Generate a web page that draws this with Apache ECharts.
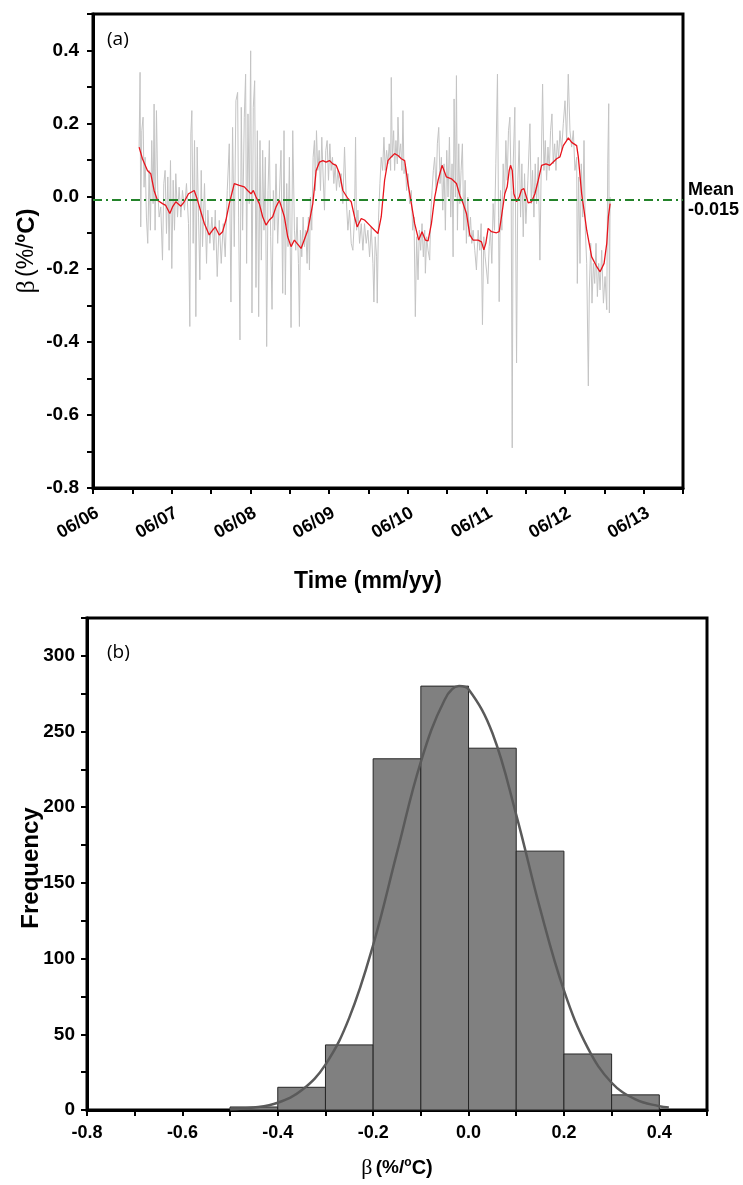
<!DOCTYPE html>
<html><head><meta charset="utf-8">
<script src="https://cdn.jsdelivr.net/npm/echarts@6/dist/echarts.min.js"></script>
<style>html,body{margin:0;padding:0;background:#fff}#c{width:743px;height:1185px}</style>
</head><body><div id="c"></div>
<script>
// ---------- Panel (a): beta time series, x = months since June 2006 ----------
const greySeries = [
[7.03,0.135],[7.18,0.340],[7.28,-0.084],[7.44,0.180],[7.64,0.217],[7.79,0.025],[7.95,0.107],[8.15,-0.057],[8.35,-0.129],[8.56,0.071],
[8.76,-0.093],[8.96,0.153],[9.17,-0.020],[9.32,0.253],[9.47,-0.093],[9.68,0.235],[9.88,0.016],[10.09,-0.057],[10.34,-0.029],[10.60,-0.175],
[10.80,0.035],[11.00,0.071],[11.21,-0.102],[11.41,0.053],[11.61,-0.148],[11.82,0.098],[12.02,-0.198],[12.23,0.044],[12.43,-0.093],[12.63,0.062],
[12.89,-0.057],[13.14,0.025],[13.40,-0.057],[13.65,0.016],[13.96,-0.038],[14.26,0.035],[14.57,-0.075],[14.77,-0.357],[14.93,0.171],[15.08,0.235],
[15.28,-0.129],[15.49,0.153],[15.69,-0.330],[15.89,0.135],[16.10,-0.057],[16.30,-0.229],[16.51,0.071],[16.71,-0.138],[17.01,0.035],[17.32,-0.184],
[17.52,-0.038],[17.83,-0.129],[18.14,-0.057],[18.44,-0.148],[18.65,-0.038],[18.95,-0.220],[19.26,-0.066],[19.56,-0.184],[19.87,-0.075],[20.17,-0.166],
[20.48,0.016],[20.79,0.144],[21.04,-0.290],[21.29,0.189],[21.55,-0.138],[21.80,0.262],[22.06,0.285],[22.21,-0.057],[22.42,-0.394],[22.62,0.244],
[22.82,-0.093],[23.08,0.217],[23.28,0.335],[23.43,-0.184],[23.64,0.226],[23.84,-0.020],[24.05,0.399],[24.25,-0.320],[24.45,0.244],[24.66,0.317],
[24.86,-0.250],[25.07,0.180],[25.27,-0.330],[25.47,0.153],[25.68,-0.175],[25.88,0.126],[26.08,-0.093],[26.29,0.107],[26.49,-0.412],[26.70,0.016],
[26.90,0.153],[27.10,-0.111],[27.31,-0.310],[27.51,0.016],[27.71,-0.093],[27.92,0.089],[28.17,-0.129],[28.43,-0.002],[28.68,0.126],[28.94,-0.266],
[29.14,0.180],[29.34,-0.270],[29.55,0.035],[29.75,-0.138],[29.96,0.107],[30.21,-0.360],[30.47,0.180],
[30.73,-0.093],[30.93,-0.148],[31.13,-0.057],[31.34,-0.184],[31.49,-0.357],[31.64,-0.093],[31.85,-0.166],[32.05,-0.057],[32.25,-0.138],[32.46,-0.093],
[32.66,-0.184],[32.86,-0.057],[33.02,-0.202],[33.17,-0.002],[33.37,-0.093],[33.58,0.107],[33.78,0.153],[33.93,0.016],[34.09,0.180],[34.29,0.071],
[34.50,0.126],[34.70,0.016],[34.90,0.162],[35.11,0.053],[35.31,-0.038],[35.51,0.126],[35.72,0.153],[35.92,0.044],[36.13,0.144],[36.33,0.071],
[36.53,0.107],[36.74,0.035],[36.94,0.089],[37.14,0.016],[37.35,0.071],[37.60,0.025],[37.86,0.062],[38.11,-0.020],[38.37,0.135],[38.62,-0.002],
[38.88,-0.093],[39.13,-0.038],[39.39,-0.129],[39.64,-0.148],[39.90,-0.057],[40.05,0.162],[40.20,-0.093],[40.41,-0.038],[40.66,-0.129],[40.92,-0.075],
[41.17,-0.148],[41.42,-0.075],[41.68,-0.129],[41.93,-0.093],[42.19,-0.166],[42.44,-0.084],[42.70,-0.184],[42.85,-0.290],[43.05,-0.111],[43.26,-0.166],
[43.36,-0.293],[43.56,-0.057],[43.77,0.035],[43.97,0.107],[44.18,0.071],[44.38,0.162],[44.58,0.071],[44.79,0.126],[44.99,0.089],[45.19,0.144],
[45.40,0.071],[45.50,0.326],[45.65,0.107],[45.86,0.180],[46.01,0.071],[46.21,0.153],[46.42,0.089],[46.52,0.217],[46.72,0.107],[46.93,0.144],
[47.13,0.071],[47.28,0.235],[47.44,0.062],[47.64,0.089],[47.84,0.016],[48.05,0.062],[48.30,-0.020],[48.56,0.016],[48.76,-0.093],[48.97,-0.057],
[49.17,-0.330],[49.37,-0.111],[49.58,-0.229],[49.78,-0.093],[49.98,-0.148],[50.19,-0.075],[50.39,-0.166],[50.60,-0.093],[50.70,-0.211],[50.90,-0.111],
[51.11,-0.148],[51.36,-0.175],[51.51,-0.057],[51.72,0.016],[51.92,0.071],[52.12,0.107],[52.33,0.016],[52.53,0.144],[52.74,0.189],[52.94,0.035],
[53.14,0.107],[53.35,-0.038],[53.55,0.089],[53.75,-0.093],[53.96,0.126],[54.16,-0.002],[54.37,0.162],[54.57,-0.057],[54.77,0.089],[54.93,-0.166],
[55.08,0.267],[55.28,-0.002],[55.44,0.331],[55.59,-0.093],[55.79,0.144],[55.95,-0.020],
[56.15,0.071],[56.35,0.144],[56.56,-0.093],[56.76,0.044],[56.96,-0.129],[57.17,-0.002],[57.37,-0.111],[57.58,-0.057],[57.78,-0.129],[57.98,-0.093],
[58.24,-0.148],[58.49,-0.202],[58.75,-0.093],[59.00,-0.148],[59.21,-0.075],[59.41,-0.352],[59.61,-0.111],[59.82,-0.166],[60.02,-0.202],[60.23,-0.240],
[60.43,-0.138],[60.63,-0.093],[60.84,-0.184],[61.04,-0.020],[61.25,-0.093],[61.45,0.089],[61.70,0.335],[61.86,-0.057],[61.96,-0.289],[62.16,0.016],
[62.37,-0.093],[62.57,0.089],[62.77,-0.002],[62.98,0.153],[63.18,0.044],[63.38,0.180],[63.59,0.217],[63.79,0.016],[63.95,-0.690],[64.10,0.089],
[64.35,0.244],[64.61,-0.457],[64.81,0.044],[65.01,0.153],[65.22,-0.057],[65.42,0.089],[65.63,-0.111],[65.83,0.062],[66.03,-0.075],[66.34,0.044],
[66.65,0.199],[66.85,-0.020],[67.05,0.071],[67.26,-0.057],[67.46,0.089],[67.66,-0.020],[67.92,0.107],[68.17,-0.175],[68.38,0.089],[68.58,0.308],
[68.79,0.071],[68.99,0.153],[69.19,0.044],[69.40,0.135],[69.60,0.071],[69.80,0.180],[70.01,0.226],[70.21,0.089],[70.42,0.144],[70.62,0.071],
[70.82,0.153],[71.03,0.107],[71.23,0.180],[71.49,0.126],[71.74,0.199],[72.00,0.262],[72.25,0.153],[72.50,0.335],[72.76,0.180],[73.01,0.135],
[73.27,0.180],[73.52,0.071],[73.78,0.107],[73.88,-0.239],[74.08,0.053],[74.29,-0.184],[74.49,0.089],[74.70,-0.057],[74.90,0.153],[75.10,-0.093],
[75.31,-0.184],[75.56,-0.520],[75.71,-0.257],[75.92,-0.129],[76.12,-0.293],[76.33,-0.184],[76.53,-0.239],[76.73,-0.129],[76.94,-0.275],[77.14,-0.184],
[77.35,-0.257],[77.60,-0.148],[77.86,-0.293],[78.11,-0.220],[78.37,-0.311],[78.52,0.089],[78.67,0.254],[78.77,-0.320],[78.88,-0.002]
];
const redSeries = [
[7.03,0.135],[7.54,0.103],[8.30,0.071],[8.81,0.062],[9.32,0.016],[9.83,-0.011],[10.60,-0.020],[11.10,-0.025],[11.72,-0.047],[12.13,-0.029],
[12.63,-0.015],[13.40,-0.027],[13.91,-0.015],[14.57,0.007],[15.44,0.016],[15.95,-0.011],[16.46,-0.043],[16.97,-0.074],[17.73,-0.106],[18.24,-0.093],
[18.65,-0.084],[19.26,-0.106],[19.77,-0.097],[20.28,-0.065],[20.79,-0.020],[21.55,0.035],[22.32,0.030],[23.08,0.026],[23.59,0.016],[24.10,0.007],
[24.46,0.016],[24.87,-0.002],[25.37,-0.020],[25.88,-0.056],[26.39,-0.079],[26.90,-0.065],[27.41,-0.056],[27.92,-0.029],[28.43,-0.011],[28.69,-0.015],
[29.19,-0.056],[29.70,-0.111],[30.21,-0.138],[30.72,-0.120],[31.74,-0.143],[32.76,-0.093],[33.53,-0.020],[34.04,0.071],[34.55,0.094],[35.06,0.098],
[35.56,0.094],[36.07,0.098],[36.58,0.089],[37.09,0.085],[37.61,0.062],[38.11,0.016],[38.88,-0.006],[39.39,-0.015],[39.89,-0.056],[40.30,-0.084],
[40.92,-0.061],[41.42,-0.065],[42.19,-0.079],[42.95,-0.093],[43.46,-0.102],[43.97,-0.056],[44.48,0.044],[44.99,0.098],[45.49,0.108],[46.00,0.117],
[46.52,0.112],[47.03,0.103],[47.54,0.098],[48.05,0.035],[48.56,-0.020],[49.07,-0.075],[49.68,-0.120],[50.19,-0.097],[50.70,-0.120],[51.11,-0.122],
[51.62,-0.075],[52.13,-0.002],[52.64,0.044],[53.25,0.085],[53.91,0.053],[54.68,0.048],[55.44,0.035],[55.95,0.003],[56.46,-0.020],[56.97,-0.047],
[57.48,-0.106],[57.98,-0.120],[58.75,-0.120],[59.26,-0.125],[59.62,-0.147],[59.92,-0.129],[60.28,-0.088],[60.79,-0.097],[61.55,-0.100],[61.96,-0.097],
[62.31,-0.056],[62.82,0.007],[63.18,0.026],[63.49,0.071],[63.69,0.085],[63.95,0.071],[64.20,0.007],[64.61,-0.015],[65.02,-0.002],[65.37,0.018],
[65.73,0.021],[66.03,0.003],[66.39,-0.018],[66.90,-0.015],[67.41,0.007],[67.92,0.044],[68.43,0.085],[69.09,0.089],[69.70,0.085],[70.21,0.094],
[70.72,0.103],[71.23,0.108],[71.74,0.139],[72.25,0.153],[72.51,0.160],[73.02,0.148],[73.78,0.139],[74.03,0.108],[74.54,0.007],[74.90,-0.038],
[75.31,-0.093],[76.07,-0.166],[76.84,-0.193],[77.35,-0.207],[77.96,-0.184],[78.37,-0.129],[78.62,-0.056],[78.88,-0.020]
];
const meanBeta = -0.015;
const meanLabel = ['Mean', '-0.015'];

// ---------- Panel (b): histogram of beta ----------
const binStart = [-0.5, -0.4, -0.3, -0.2, -0.1, 0.0, 0.1, 0.2, 0.3];
const binEnd   = [-0.4, -0.3, -0.2, -0.1, 0.0, 0.1, 0.2, 0.3, 0.4];
const binCount = [2, 15, 43, 232, 280, 239, 171, 37, 10];
const fitX = [-0.50,-0.45,-0.40,-0.35,-0.30,-0.25,-0.20,-0.15,-0.10,-0.05,-0.02,0.00,0.05,0.10,0.15,0.20,0.25,0.30,0.35,0.40,0.42];
const fitY = [0.5,1.6,4.8,13,30,61,109,170,230,271,280,278,249,195,133,79,41,18,7,2.5,1.6];

const SANS = 'Liberation Sans, Arial, sans-serif';
const SERIF = 'Liberation Serif, Times New Roman, serif';

function tenthLabel(v, maxK) {
  const k = Math.round(v * 10);
  if (k % 2 !== 0 || k > maxK) return '';
  return k === 0 ? '0.0' : (k / 10).toFixed(1);
}
const axisLineStyle = {show: true, onZero: false, lineStyle: {color: '#000', width: 3}};
const tickStyle = {show: true, inside: false, length: 6, lineStyle: {color: '#000', width: 2}};

const chart = echarts.init(document.getElementById('c'), null, {renderer: 'canvas'});
chart.setOption({
  backgroundColor: '#fff',
  animation: false,
  grid: [
    {left: 93, top: 14, width: 590, height: 474, show: true, borderColor: '#000', borderWidth: 3,
     containLabel: false, outerBoundsMode: 'none'},
    {left: 87, top: 618, width: 620, height: 492, show: true, borderColor: '#000', borderWidth: 3,
     containLabel: false, outerBoundsMode: 'none'}
  ],
  xAxis: [
    {type: 'value', gridIndex: 0, min: 0, max: 90, interval: 6,
     axisLine: axisLineStyle, axisTick: tickStyle, splitLine: {show: false},
     axisLabel: {rotate: 30, margin: 16, verticalAlign: 'top', color: '#000', fontFamily: SANS, fontWeight: 'bold', fontSize: 18,
       formatter: v => (Math.round(v) % 12 === 0 && v <= 84) ? '06/' + String(6 + Math.round(v) / 12).padStart(2, '0') : ''}},
    {type: 'value', gridIndex: 1, min: -0.8, max: 0.5, interval: 0.1,
     axisLine: axisLineStyle, axisTick: tickStyle, splitLine: {show: false},
     axisLabel: {margin: 14, color: '#000', fontFamily: SANS, fontWeight: 'bold', fontSize: 18,
       formatter: v => tenthLabel(v, 4)}}
  ],
  yAxis: [
    {type: 'value', gridIndex: 0, min: -0.8, max: 0.5, interval: 0.1,
     axisLine: axisLineStyle, axisTick: tickStyle, splitLine: {show: false},
     axisLabel: {margin: 14, color: '#000', fontFamily: SANS, fontWeight: 'bold', fontSize: 19,
       formatter: v => tenthLabel(v, 4)}},
    {type: 'value', gridIndex: 1, min: 0, max: 325, interval: 25,
     axisLine: axisLineStyle, axisTick: tickStyle, splitLine: {show: false},
     axisLabel: {margin: 12, color: '#000', fontFamily: SANS, fontWeight: 'bold', fontSize: 19,
       formatter: v => (v % 50 === 0 && v <= 300) ? String(v) : ''}}
  ],
  series: [
    {type: 'line', xAxisIndex: 0, yAxisIndex: 0, data: greySeries, symbol: 'none', z: 2,
     lineStyle: {color: '#c4c4c4', width: 1}, silent: true},
    {type: 'line', xAxisIndex: 0, yAxisIndex: 0, data: [], symbol: 'none', z: 3,
     markLine: {silent: true, symbol: 'none', animation: false,
       lineStyle: {color: '#23832a', width: 2.2, type: [9, 4, 2, 4]},
       label: {show: true, position: 'end', distance: 5, formatter: meanLabel.join('\n'),
         color: '#000', fontFamily: SANS, fontWeight: 'bold', fontSize: 18, lineHeight: 20, align: 'left'},
       data: [{yAxis: meanBeta}]}},
    {type: 'line', xAxisIndex: 0, yAxisIndex: 0, data: redSeries, symbol: 'none', z: 4,
     lineStyle: {color: '#e8141c', width: 1.3}, silent: true},
    {type: 'custom', xAxisIndex: 1, yAxisIndex: 1, z: 3,
     data: binStart.map((s, i) => [s, binEnd[i], binCount[i]]),
     encode: {x: [0, 1], y: 2},
     renderItem: (params, api) => {
       const p0 = api.coord([api.value(0), api.value(2)]);
       const p1 = api.coord([api.value(1), 0]);
       return {type: 'rect', shape: {x: p0[0], y: p0[1], width: p1[0] - p0[0], height: p1[1] - p0[1]},
               style: {fill: '#808080', stroke: '#262626', lineWidth: 1}};
     }},
    {type: 'line', xAxisIndex: 1, yAxisIndex: 1, smooth: 0.4, symbol: 'none', z: 5,
     data: fitX.map((x, i) => [x, fitY[i]]),
     lineStyle: {color: '#5a5a5a', width: 2.5}}
  ],
  graphic: [
    {type: 'text', left: 107, top: 30, style: {text: '(a)', fontFamily: 'Open Sans, sans-serif', fontSize: 19, fill: '#000'}},
    {type: 'text', left: 107, top: 643, style: {text: '(b)', fontFamily: 'Open Sans, sans-serif', fontSize: 19, fill: '#000'}},
    {type: 'text', x: 368, y: 582, style: {text: 'Time (mm/yy)', fontFamily: SANS, fontWeight: 'bold', fontSize: 23,
       fill: '#000', align: 'center', verticalAlign: 'middle'}},
    {type: 'text', x: 27, y: 251, rotation: Math.PI / 2,
     style: {text: '{g|β} {n|(%/}{s|o}{c|C)}', align: 'center', verticalAlign: 'middle', fill: '#000',
       rich: {g: {fontFamily: SERIF, fontSize: 26}, n: {fontFamily: SANS, fontSize: 23},
              s: {fontFamily: SANS, fontWeight: 'bold', fontSize: 14, verticalAlign: 'top'},
              c: {fontFamily: SANS, fontWeight: 'bold', fontSize: 24}}}},
    {type: 'text', x: 31, y: 868, rotation: Math.PI / 2,
     style: {text: 'Frequency', fontFamily: SANS, fontWeight: 'bold', fontSize: 24, fill: '#000',
       align: 'center', verticalAlign: 'middle'}},
    {type: 'text', x: 397, y: 1168,
     style: {text: '{g|β} {n|(%/}{s|o}{c|C)}', align: 'center', verticalAlign: 'middle', fill: '#000',
       rich: {g: {fontFamily: SERIF, fontSize: 22}, n: {fontFamily: SANS, fontWeight: 'bold', fontSize: 19},
              s: {fontFamily: SANS, fontWeight: 'bold', fontSize: 12, verticalAlign: 'top'},
              c: {fontFamily: SANS, fontWeight: 'bold', fontSize: 20}}}}
  ]
});
</script></body></html>
